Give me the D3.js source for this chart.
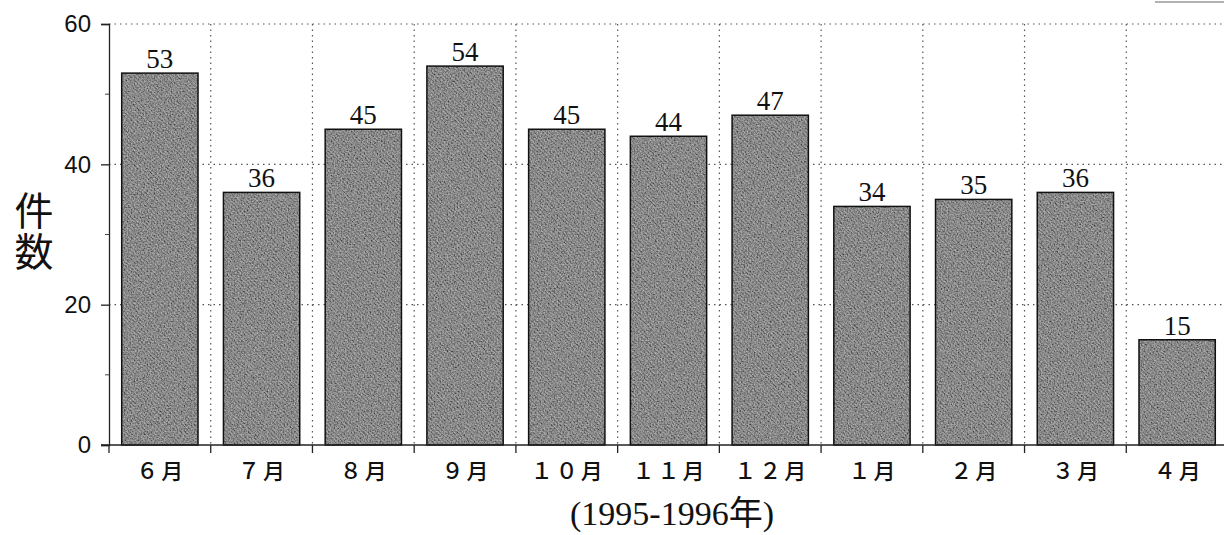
<!DOCTYPE html>
<html>
<head>
<meta charset="utf-8">
<script src="https://cdn.jsdelivr.net/npm/d3@7.9.0/dist/d3.min.js"></script>
<style>
  body { margin: 0; background: #fff; }
  svg { display: block; }
</style>
</head>
<body>
<svg id="chart" width="1224" height="535"></svg>
<script>
// data
const months = ["６月", "７月", "８月", "９月", "１０月", "１１月", "１２月", "１月", "２月", "３月", "４月"];
const counts = [53, 36, 45, 54, 45, 44, 47, 34, 35, 36, 15];
const yTicks = [0, 20, 40, 60];
const yMinor = [10, 30, 50];

const svg = d3.select("#chart");
const plotLeft = 109, plotRight = 1228, plotTop = 24, plotBottom = 445;

const x = d3.scaleBand().domain(months).range([plotLeft, plotRight]).paddingInner(0.25).paddingOuter(0.125);
const y = d3.scaleLinear().domain([0, 60]).range([plotBottom, plotTop]);

// hatched grey fill with some grain on top
const defs = svg.append("defs");
const pat = defs.append("pattern")
  .attr("id", "hatch")
  .attr("patternUnits", "userSpaceOnUse")
  .attr("width", 3).attr("height", 3)
  .attr("patternTransform", "rotate(45)");
pat.append("rect").attr("width", 3).attr("height", 3).attr("fill", "#858585");
pat.append("rect").attr("width", 3).attr("height", 1.4).attr("fill", "#464646");

const grain = defs.append("filter").attr("id", "grain")
  .attr("x", 0).attr("y", 0).attr("width", 1).attr("height", 1);
grain.append("feTurbulence").attr("type", "fractalNoise")
  .attr("baseFrequency", 0.7).attr("numOctaves", 2).attr("seed", 3).attr("result", "noise");
grain.append("feColorMatrix").attr("in", "noise").attr("type", "matrix")
  .attr("values", "1.6 0 0 0 -0.35  1.6 0 0 0 -0.35  1.6 0 0 0 -0.35  0 0 0 0 0.35")
  .attr("result", "grey");
grain.append("feComposite").attr("in", "grey").attr("in2", "SourceGraphic")
  .attr("operator", "in").attr("result", "clipped");
const merge = grain.append("feMerge");
merge.append("feMergeNode").attr("in", "SourceGraphic");
merge.append("feMergeNode").attr("in", "clipped");

// grid
const grid = svg.append("g").attr("stroke", "#555").attr("stroke-width", 1.2)
  .attr("stroke-dasharray", "1.5,4");
yTicks.filter(d => d > 0).forEach(d => {
  grid.append("line").attr("x1", plotLeft).attr("x2", plotRight)
    .attr("y1", y(d)).attr("y2", y(d));
});
const step = x.step();
const edges = [plotLeft].concat(months.slice(1).map(m => x(m) - step * x.paddingInner() / 2));
edges.slice(1).forEach(gx => {
  grid.append("line").attr("x1", gx).attr("x2", gx).attr("y1", plotTop).attr("y2", plotBottom);
});

// bars
svg.append("g").selectAll("rect")
  .data(counts)
  .join("rect")
  .attr("x", (d, i) => x(months[i]))
  .attr("y", d => y(d))
  .attr("width", x.bandwidth())
  .attr("height", d => plotBottom - y(d))
  .attr("fill", "url(#hatch)")
  .attr("filter", "url(#grain)");
svg.append("g").selectAll("rect")
  .data(counts)
  .join("rect")
  .attr("x", (d, i) => x(months[i]))
  .attr("y", d => y(d))
  .attr("width", x.bandwidth())
  .attr("height", d => plotBottom - y(d))
  .attr("fill", "none")
  .attr("stroke", "#111")
  .attr("stroke-width", 1.5);

// value labels
svg.append("g").selectAll("text")
  .data(counts)
  .join("text")
  .attr("x", (d, i) => x(months[i]) + x.bandwidth() / 2)
  .attr("y", d => y(d) - 5)
  .attr("text-anchor", "middle")
  .attr("font-family", "Liberation Serif, DejaVu Serif, serif")
  .attr("font-size", 27)
  .attr("fill", "#111")
  .text(d => d);

// y axis
const yAxis = d3.axisLeft(y).tickValues(yTicks).tickSize(8).tickPadding(10);
const gy = svg.append("g").attr("transform", `translate(${plotLeft},0)`).call(yAxis);
gy.select(".domain").attr("stroke", "#222").attr("stroke-width", 1.3);
gy.selectAll(".tick line").attr("stroke", "#222").attr("stroke-width", 1.3);
gy.selectAll(".tick text")
  .attr("font-family", "Liberation Sans, Arial, sans-serif")
  .attr("font-size", 24).attr("fill", "#111");
gy.append("g").selectAll("line").data(yMinor).join("line")
  .attr("x1", -4).attr("x2", 0)
  .attr("y1", d => y(d)).attr("y2", d => y(d))
  .attr("stroke", "#444");

// x axis baseline and ticks at band edges
const gxAxis = svg.append("g");
gxAxis.append("line").attr("x1", plotLeft - 8).attr("x2", plotRight)
  .attr("y1", plotBottom).attr("y2", plotBottom).attr("stroke", "#222").attr("stroke-width", 1.3);
gxAxis.selectAll("line.tk").data(edges).join("line").attr("class", "tk")
  .attr("x1", d => d).attr("x2", d => d)
  .attr("y1", plotBottom).attr("y2", plotBottom + 8)
  .attr("stroke", "#222").attr("stroke-width", 1.3);
gxAxis.selectAll("text").data(months).join("text")
  .attr("x", d => x(d) + x.bandwidth() / 2 + 1.5)
  .attr("y", 479)
  .attr("text-anchor", "middle")
  .attr("font-family", "Noto Sans CJK JP, sans-serif")
  .attr("font-size", 22)
  .attr("font-weight", 500)
  .attr("letter-spacing", 3)
  .attr("fill", "#111")
  .text(d => d);

// y axis title, written vertically
svg.append("text")
  .attr("x", 34).attr("y", 232)
  .attr("text-anchor", "middle")
  .attr("writing-mode", "vertical-rl")
  .attr("font-family", "Noto Sans CJK JP, sans-serif")
  .attr("font-size", 39)
  .attr("letter-spacing", 2)
  .attr("fill", "#111")
  .text("件数");

// x axis title
svg.append("text").attr("x", 672).attr("y", 525).attr("text-anchor", "middle")
  .attr("font-family", "Liberation Serif, Noto Sans CJK JP, serif").attr("font-size", 34).attr("fill", "#111")
  .text("(1995-1996年)");

// fragment of a box at the top right
svg.append("line").attr("x1", 1155).attr("x2", 1224).attr("y1", 2).attr("y2", 2)
  .attr("stroke", "#999").attr("stroke-width", 1.5);
</script>
</body>
</html>
